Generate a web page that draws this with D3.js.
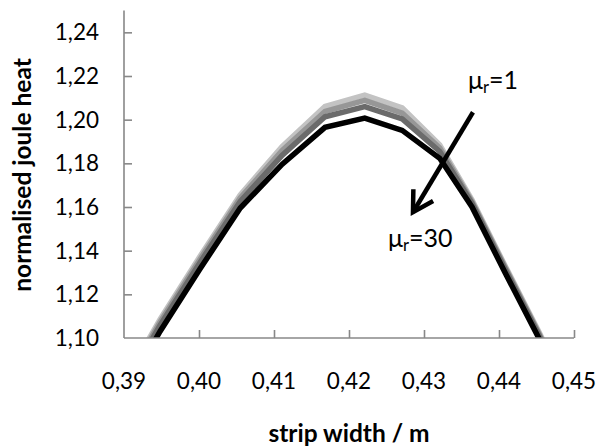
<!DOCTYPE html>
<html><head><meta charset="utf-8">
<script src="https://cdn.jsdelivr.net/npm/d3@7"></script>
<style>
html,body{margin:0;padding:0;background:#fff;}
svg{display:block;}
</style></head>
<body>
<svg id="chart" width="597" height="446"></svg>
<script>
// ---- data ----
const stripWidth = [0.3895, 0.3948, 0.4001, 0.4055, 0.4111, 0.4168, 0.4221, 0.4271, 0.4321, 0.4364, 0.4408, 0.4453, 0.4497];
const heatMu1  = [1.0765, 1.1085, 1.1372, 1.1655, 1.1878, 1.2060, 1.2112, 1.2054, 1.1884, 1.1633, 1.1332, 1.1030, 1.0720];
const heatMuB  = [1.0752, 1.1072, 1.1359, 1.1641, 1.1859, 1.2038, 1.2088, 1.2030, 1.1870, 1.1625, 1.1325, 1.1023, 1.0713];
const heatMuC  = [1.0738, 1.1058, 1.1344, 1.1625, 1.1837, 1.2013, 1.2060, 1.2003, 1.1854, 1.1617, 1.1316, 1.1015, 1.0705];
const heatMu30 = [1.0710, 1.1030, 1.1315, 1.1595, 1.1796, 1.1965, 1.2007, 1.1951, 1.1823, 1.1600, 1.1300, 1.1000, 1.0690];
const xTicks = [0.39, 0.40, 0.41, 0.42, 0.43, 0.44, 0.45];
const yTicks = [1.10, 1.12, 1.14, 1.16, 1.18, 1.20, 1.22, 1.24];
const xTitle = "strip width / m";
const yTitle = "normalised joule heat";
const arrowFrom = [0.43653, 1.2034];
const arrowTo = [0.42853, 1.1576];

const series = [
  {values: heatMu1,  color: "#c3c3c3"},
  {values: heatMuB,  color: "#979797"},
  {values: heatMuC,  color: "#6b6b6b"},
  {values: heatMu30, color: "#000000"}
];

// ---- layout ----
const svg = d3.select("#chart");
const L = 124, R = 574, T = 10.5, B = 338;
const x = d3.scaleLinear().domain([0.39, 0.45]).range([L, R]);
const y = d3.scaleLinear().domain([1.10, 1.25]).range([B, T]);
const fmt = v => d3.format(".2f")(v).replace(".", ",");
const axisColor = "#888888";
const font = "Lato, 'Open Sans', sans-serif";

svg.append("defs").append("clipPath").attr("id", "clip")
  .append("rect").attr("x", L).attr("y", T - 5).attr("width", R - L + 5).attr("height", B - T + 5);

// lines
const line = d3.line().x((d, i) => x(stripWidth[i])).y(d => y(d));
const g = svg.append("g").attr("clip-path", "url(#clip)");
series.forEach(s => {
  g.append("path").datum(s.values)
    .attr("d", line)
    .attr("fill", "none")
    .attr("stroke", s.color)
    .attr("stroke-width", 5.5)
    .attr("stroke-linejoin", "miter");
});

// axes
const xAxis = d3.axisBottom(x).tickValues(xTicks).tickSize(-8).tickPadding(0).tickFormat(() => "");
const yAxis = d3.axisLeft(y).tickValues(yTicks).tickSize(-8).tickPadding(0).tickFormat(() => "");
const gx = svg.append("g").attr("transform", `translate(0,${B})`).call(xAxis);
const gy = svg.append("g").attr("transform", `translate(${L},0)`).call(yAxis);
[gx, gy].forEach(a => {
  a.selectAll(".tick line").attr("stroke", axisColor).attr("stroke-width", 1.6);
  a.select(".domain").remove();
});
gx.selectAll(".tick").filter(d => d === 0.39).remove();
gy.selectAll(".tick").filter(d => d === 1.10).remove();
svg.append("line").attr("x1", L).attr("x2", R).attr("y1", B).attr("y2", B)
  .attr("stroke", axisColor).attr("stroke-width", 1.6);
svg.append("line").attr("x1", L).attr("x2", L).attr("y1", y(1.25)).attr("y2", B)
  .attr("stroke", axisColor).attr("stroke-width", 1.6);

// tick labels
svg.append("g").selectAll("text").data(xTicks).join("text")
  .attr("x", d => x(d)).attr("y", 389)
  .attr("text-anchor", "middle")
  .attr("font-family", font).attr("font-size", 22.5).attr("fill", "#000")
  .text(fmt);
svg.append("g").selectAll("text").data(yTicks).join("text")
  .attr("x", 99).attr("y", d => y(d) + 8)
  .attr("text-anchor", "end")
  .attr("font-family", font).attr("font-size", 22.5).attr("fill", "#000")
  .text(fmt);

// titles
svg.append("text").attr("x", 349).attr("y", 442)
  .attr("text-anchor", "middle").attr("font-family", font)
  .attr("font-weight", "bold").attr("font-size", 24.5).attr("fill", "#000")
  .text(xTitle);
svg.append("text").attr("transform", "translate(31,175) rotate(-90)")
  .attr("text-anchor", "middle").attr("font-family", font)
  .attr("font-weight", "bold").attr("font-size", 24.5).attr("fill", "#000")
  .text(yTitle);

// arrow
const ax1 = x(arrowFrom[0]), ay1 = y(arrowFrom[1]);
const ax2 = x(arrowTo[0]), ay2 = y(arrowTo[1]);
svg.append("line").attr("x1", ax1).attr("y1", ay1).attr("x2", ax2).attr("y2", ay2)
  .attr("stroke", "#000").attr("stroke-width", 4.5);
const ang = Math.atan2(ay1 - ay2, ax1 - ax2);
const headLen = 23, spread = 30 * Math.PI / 180;
const headPts = [
  [ax2 + headLen * Math.cos(ang + spread), ay2 + headLen * Math.sin(ang + spread)],
  [ax2, ay2],
  [ax2 + headLen * Math.cos(ang - spread), ay2 + headLen * Math.sin(ang - spread)]
];
svg.append("path").attr("d", d3.line()(headPts))
  .attr("fill", "none").attr("stroke", "#000").attr("stroke-width", 4.5)
  .attr("stroke-linejoin", "miter").attr("stroke-linecap", "butt");

// mu labels
function muLabel(px, py, value) {
  const t = svg.append("text").attr("x", px).attr("y", py)
    .attr("font-family", font).attr("font-size", 25).attr("fill", "#000");
  t.append("tspan").text("μ");
  t.append("tspan").attr("font-size", 16.5).attr("dy", 4).text("r");
  t.append("tspan").attr("dy", -4).text("=" + value);
}
muLabel(468, 89, "1");
muLabel(388, 247, "30");
</script>
</body></html>
